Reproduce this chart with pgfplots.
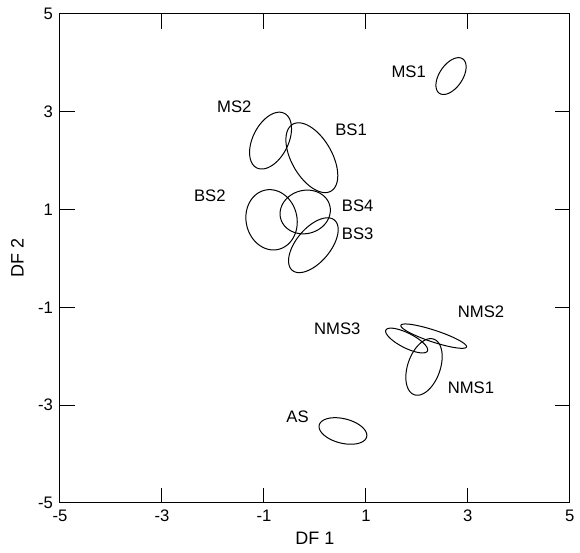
\documentclass[border=0pt]{standalone}
\usepackage{fontspec}
\setmainfont{Liberation Sans}
\usepackage{pgfplots}
\pgfplotsset{compat=1.18}
\newcommand{\confell}[5]{%
  \addplot[black, line width=0.75pt, domain=0:360, samples=100, variable=\t, smooth]
  ({#1 + #3*cos(\t)*cos(#5) - #4*sin(\t)*sin(#5)},
   {#2 + #3*cos(\t)*sin(#5) + #4*sin(\t)*cos(#5)});}
\begin{document}
\fontsize{12.5}{14}\selectfont
\begin{tikzpicture}
\begin{axis}[
  scale only axis,
  width=382.5pt, height=366.75pt,
  xmin=-5, xmax=5, ymin=-5, ymax=5,
  xtick={-5,-3,-1,1,3,5}, ytick={-5,-3,-1,1,3,5},
  xtick pos=both, ytick pos=both,
  xticklabel pos=lower, yticklabel pos=left,
  tick align=inside,
  major tick length=11.25pt,
  tick style={black, line width=0.75pt},
  axis line style={black, line width=0.75pt},
  xlabel={DF 1}, ylabel={DF 2},
  /pgf/number format/assume math mode=true,
  ticklabel style={font=\fontsize{12.5}{14}\selectfont},
  label style={font=\fontsize{13.5}{15}\selectfont},
  xticklabel style={yshift=-1pt},
  yticklabel style={xshift=-1pt},
  xlabel style={at={(axis description cs:0.5,0)}, anchor=center, yshift=-26.5pt},
  ylabel style={at={(axis description cs:0,0.5)}, anchor=center, yshift=32pt},
  clip=false,
]
% center x, center y, semi-major, semi-minor, angle
\confell{2.67}{3.73}{0.42}{0.23}{58}   % MS1
\confell{-0.87}{2.41}{0.62}{0.35}{65}  % MS2
\confell{-0.06}{2.06}{0.78}{0.40}{-62} % BS1
\confell{-0.85}{0.79}{0.62}{0.50}{100} % BS2
\confell{-0.19}{0.95}{0.50}{0.44}{20}  % BS4
\confell{-0.03}{0.27}{0.66}{0.34}{52}  % BS3
\confell{1.80}{-1.68}{0.46}{0.15}{-28} % NMS3
\confell{2.33}{-1.59}{0.68}{0.12}{-19} % NMS2
\confell{2.14}{-2.22}{0.60}{0.32}{72}  % NMS1
\confell{0.55}{-3.53}{0.48}{0.25}{-15} % AS
\node at (axis cs:1.84,3.82) {MS1};
\node at (axis cs:-1.58,3.10) {MS2};
\node at (axis cs:0.71,2.64) {BS1};
\node at (axis cs:-2.06,1.28) {BS2};
\node at (axis cs:0.84,1.07) {BS4};
\node at (axis cs:0.84,0.50) {BS3};
\node at (axis cs:0.44,-1.44) {NMS3};
\node at (axis cs:3.26,-1.09) {NMS2};
\node at (axis cs:3.06,-2.65) {NMS1};
\node at (axis cs:-0.34,-3.24) {AS};
\end{axis}
\useasboundingbox ([shift={(-45pt,-37.5pt)}]current axis.south west) rectangle ([shift={(7.5pt,10.5pt)}]current axis.north east);
\end{tikzpicture}
\end{document}
